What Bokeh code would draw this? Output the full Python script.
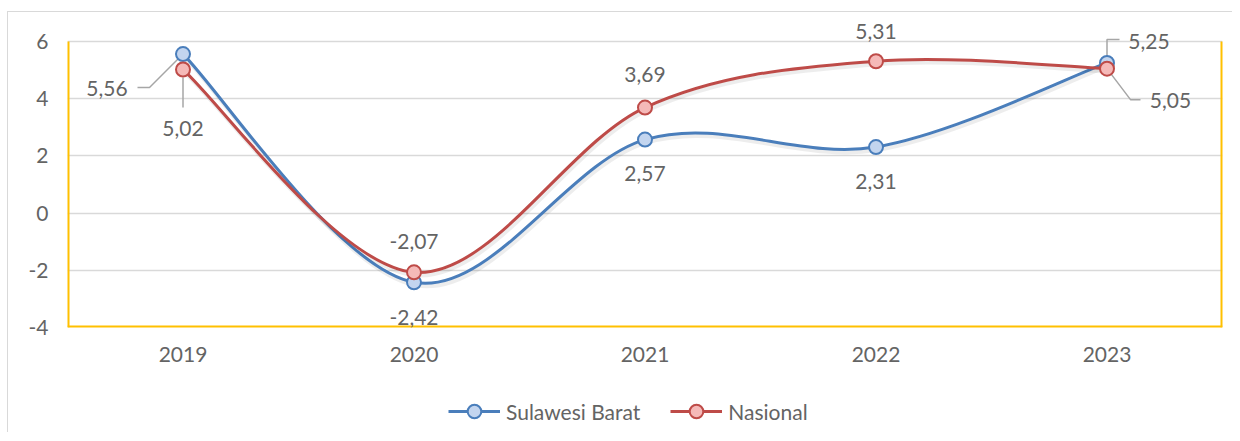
from bokeh.plotting import figure
from bokeh.layouts import column
from bokeh.models import (ColumnDataSource, LabelSet, Legend, LegendItem, FixedTicker)
from bokeh.core.properties import value
from bokeh.embed import file_html
from bokeh.resources import INLINE

# ---------------- data ----------------
years = ["2019", "2020", "2021", "2022", "2023"]
sulbar = [5.56, -2.42, 2.57, 2.31, 5.25]
nasional = [5.02, -2.07, 3.69, 5.31, 5.05]
y_ticks = [-4, -2, 0, 2, 4, 6]

# ---------------- style / layout ----------------
W = 1224
H1, H2 = 370, 50
PLOT_TOP, PLOT_H = 29, 286          # plot-area top (canvas px) and height
B_LEFT, B_RIGHT, B_TOP = 59, 10, 3
B_BOTTOM = H1 - PLOT_TOP - PLOT_H
FW = W - B_LEFT - B_RIGHT
XR = (-0.5, 4.5)
Y_LO, Y_HI = -4, 6
PX = FW / (XR[1] - XR[0])                   # pixels per x unit
PY = PLOT_H / (Y_HI - Y_LO)                 # pixels per y unit
YR = (Y_LO, Y_HI + (PLOT_TOP - B_TOP) / PY)  # extra head-room for labels

BLUE, BLUE_FILL = "#4A7EBB", "#C3D5EF"
RED, RED_FILL = "#BE4B48", "#F5B9B8"
TXT = "#646464"
GRID = "#D9D9D9"
YELLOW = "#FFC000"
FONT = "Lato"
FS = "21px"

# label placement (screen px, relative to the point: dx right, dy down)
sul_dx = [-76, 0, 0, 0, 42]
sul_dy = [34, 35, 34, 34.5, -21.5]
nas_dx = [0, 0, 0, 0, 63.5]
nas_dy = [59, -31, -33, -30, 32]
# leader lines (screen px offsets from the point) for labels moved away
sul_leaders = {0: [(0, 0), (-33.5, 33.5), (-45.5, 33.5)],
               4: [(0, 0), (0, -23.5), (12.5, -23.5)]}
nas_leaders = {0: [(0, 8), (0, 38)],
               4: [(0, 0), (23.5, 31), (33.5, 31)]}

xs = list(range(len(years)))


def fmt(v):
    return f"{v:.2f}".replace(".", ",")


def bezier_source(x, y, ox=0.0, oy=0.0):
    n = len(x)
    d = dict(x0=[], y0=[], x1=[], y1=[], cx0=[], cy0=[], cx1=[], cy1=[])
    for i in range(n - 1):
        a = max(i - 1, 0)
        b = min(i + 2, n - 1)
        d["x0"].append(x[i] + ox); d["y0"].append(y[i] + oy)
        d["x1"].append(x[i + 1] + ox); d["y1"].append(y[i + 1] + oy)
        d["cx0"].append(x[i] + (x[i + 1] - x[a]) / 6 + ox)
        d["cy0"].append(y[i] + (y[i + 1] - y[a]) / 6 + oy)
        d["cx1"].append(x[i + 1] - (x[b] - x[i]) / 6 + ox)
        d["cy1"].append(y[i + 1] - (y[b] - y[i]) / 6 + oy)
    return ColumnDataSource(d)


p = figure(width=W, height=H1, x_range=XR, y_range=YR, output_backend="svg",
           toolbar_location=None, min_border_left=B_LEFT, min_border_right=B_RIGHT,
           min_border_top=B_TOP, min_border_bottom=B_BOTTOM)
p.outline_line_color = None
p.background_fill_color = "white"
p.border_fill_color = "white"

# grid
p.xgrid.grid_line_color = None
p.ygrid.ticker = FixedTicker(ticks=y_ticks)
p.ygrid.grid_line_color = GRID
p.ygrid.grid_line_width = 1.3

# plot-area border (yellow left / right / bottom)
p.segment(x0=[XR[0], XR[1], XR[0]], y0=[Y_LO, Y_LO, Y_LO],
          x1=[XR[0], XR[1], XR[1]], y1=[Y_HI, Y_HI, Y_LO],
          line_color=YELLOW, line_width=4)

# axes
p.xaxis.ticker = FixedTicker(ticks=xs)
p.xaxis.major_label_overrides = {i: y for i, y in enumerate(years)}
p.yaxis.ticker = FixedTicker(ticks=y_ticks)
p.yaxis.major_label_overrides = {t: str(t) for t in y_ticks}
for ax in (p.xaxis[0], p.yaxis[0]):
    ax.axis_line_color = None
    ax.major_tick_line_color = None
    ax.minor_tick_line_color = None
    ax.major_tick_out = 0
    ax.major_tick_in = 0
    ax.major_label_text_font = FONT
    ax.major_label_text_font_size = FS
    ax.major_label_text_color = TXT
p.xaxis.major_label_standoff = 19
p.yaxis.major_label_standoff = 19

# leader lines
lx, ly = [], []
for vals, leaders in ((sulbar, sul_leaders), (nasional, nas_leaders)):
    for i, pts in leaders.items():
        lx.append([xs[i] + dx / PX for dx, dy in pts])
        ly.append([vals[i] - dy / PY for dx, dy in pts])
p.multi_line(xs=lx, ys=ly, line_color="#A6A6A6", line_width=1.5)

for name, vals, col in (("Sulawesi Barat", sulbar, BLUE), ("Nasional", nasional, RED)):
    p.bezier(x0="x0", y0="y0", x1="x1", y1="y1", cx0="cx0", cy0="cy0", cx1="cx1", cy1="cy1",
             source=bezier_source(xs, vals, 1.5 / PX, -3 / PY),
             line_color="black", line_alpha=0.07, line_width=4)
    p.bezier(x0="x0", y0="y0", x1="x1", y1="y1", cx0="cx0", cy0="cy0", cx1="cx1", cy1="cy1",
             source=bezier_source(xs, vals), line_color=col, line_width=3)

for vals, col, fill in ((sulbar, BLUE, BLUE_FILL), (nasional, RED, RED_FILL)):
    p.scatter(x=xs, y=vals, size=14, marker="circle", fill_color=fill,
              line_color=col, line_width=2)

# data labels
for vals, dxs, dys in ((sulbar, sul_dx, sul_dy), (nasional, nas_dx, nas_dy)):
    src = ColumnDataSource(dict(x=xs, y=vals, t=[fmt(v) for v in vals],
                                dx=dxs, dy=[-d for d in dys]))
    p.add_layout(LabelSet(x="x", y="y", text="t", source=src, x_offset="dx", y_offset="dy",
                          text_align="center", text_baseline="middle",
                          text_font=value(FONT), text_font_size=FS, text_color=TXT))

# ---------------- legend strip ----------------
q = figure(width=W, height=H2, x_range=(0, 1), y_range=(0, 1), output_backend="svg",
           toolbar_location=None, min_border=0)
q.axis.visible = False
q.grid.visible = False
q.outline_line_color = None
q.border_fill_color = "white"
items = []
for name, col, fill in (("Sulawesi Barat", BLUE, BLUE_FILL), ("Nasional", RED, RED_FILL)):
    # legend-key renderers, kept outside the visible range of the strip
    ln = q.line(x=[-5, -4], y=[-5, -5], line_color=col, line_width=3)
    mk = q.scatter(x=[-5], y=[-5], size=14, marker="circle", fill_color=fill,
                   line_color=col, line_width=2)
    items.append(LegendItem(label=name, renderers=[ln, mk]))
legend = Legend(items=items, orientation="horizontal", location=(381, 4),
                glyph_width=52, glyph_height=34, label_standoff=6, spacing=30,
                label_text_font=FONT, label_text_font_size=FS, label_text_color=TXT,
                border_line_color=None, background_fill_alpha=0, padding=0, margin=0)
q.add_layout(legend)

layout = column(p, q, spacing=0,
                styles={"margin-top": "11px", "margin-left": "7px",
                        "border-top": "1px solid #D9D9D9",
                        "border-left": "1px solid #D9D9D9"})

open("out.html", "w").write(file_html(layout, INLINE))
